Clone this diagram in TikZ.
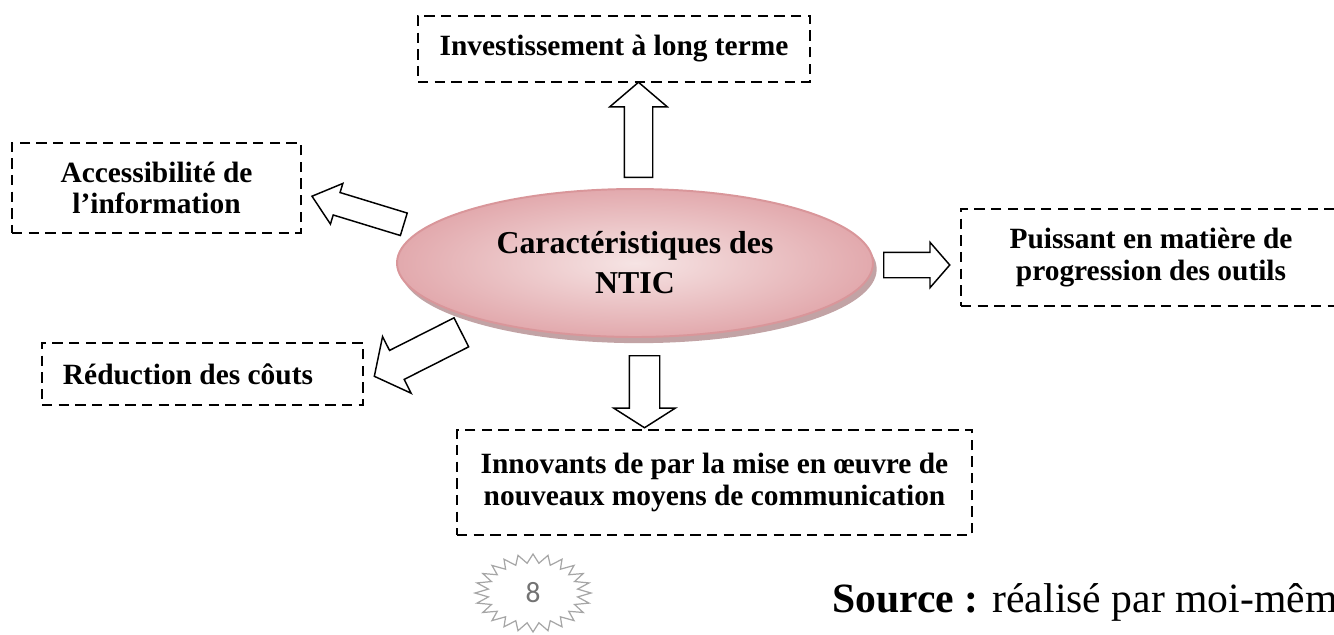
\documentclass[tikz,border=0pt]{standalone}
\usepackage{fontspec}
\setmainfont{Liberation Serif}
\newfontfamily\pagefont{Carlito}
\usetikzlibrary{shapes.geometric,shapes.arrows,shadows}
\definecolor{rosefill}{HTML}{F6E4E4}
\definecolor{rosedark}{HTML}{E2A9AD}
\definecolor{roseline}{HTML}{D9969A}
\definecolor{roseshadow}{HTML}{B38C8E}
\definecolor{sealgray}{HTML}{A6A6A6}
\newdimen\px \px=0.408pt
\tikzset{
  dashbox/.style={draw, dash pattern=on 4.2pt off 2.6pt, line width=1pt,
    align=center, inner sep=0pt, font=\bfseries\fontsize{12}{12.8}\selectfont},
  bigarrow/.style n args={5}{draw, single arrow, line width=0.6pt, inner xsep=0pt,
    inner ysep=#3/2*\px, anchor=tail, rotate=#1, minimum height=#2*\px,
    single arrow head extend=#4*\px, single arrow tip angle=#5},
}

\begin{document}
\begin{tikzpicture}[x=\px, y=-\px]
      \useasboundingbox (0,0) rectangle (1334,634);
      % centre
      \node[ellipse, minimum width=476*\px, minimum height=148*\px, draw=roseline,
        line width=0.8pt, inner color=rosefill, outer color=rosedark,
        drop shadow={shadow xshift=1.5pt, shadow yshift=-2.5pt,
        fill=roseshadow, opacity=0.8}, align=center,
        font=\bfseries\fontsize{13}{16.3}\selectfont] (N) at (635,263) {Caractéristiques des\\NTIC};
      % boxes
      \node[dashbox, minimum width=392*\px, minimum height=66*\px] (T) at (614,49) {Investissement à long terme};
      \node[dashbox, minimum width=289*\px, minimum height=90*\px] (A) at (156.5,188) {Accessibilité de\\l’information};
      \node[dashbox, minimum width=380*\px, minimum height=97*\px] (P) at (1151,257.5) {Puissant en matière de\\progression des outils};
      \node[dashbox, minimum width=321*\px, minimum height=62*\px] (R) at (202.5,374) {Réduction des côuts\hspace{29\px}};
      \node[dashbox, minimum width=515*\px, minimum height=105*\px] (V) at (714.5,482.5) {Innovants de par la mise en œuvre de\\nouveaux moyens de communication};
      % block arrows
      \node[bigarrow={90}{95}{27}{14.5}{99}] (aT) at (638.5,178) {};
      \node[bigarrow={-90}{72}{29}{15.5}{115}] (aV) at (644.5,355) {};
      \node[bigarrow={0}{66}{24}{10}{98}] (aP) at (883,265) {};
      \node[bigarrow={163}{96}{22}{9.5}{79}] (aA) at (404.5,224.5) {};
      \node[bigarrow={206.8}{97.5}{31}{15.5}{103}] (aR) at (462,332) {};
      % source and page number
      \node[anchor=base west, inner sep=0pt, font=\fontsize{17}{20}\selectfont] (S) at (832,612) {\textbf{Source :} réalisé par moi-même};
      \node[text=black!55, font=\pagefont\fontsize{12}{14}\selectfont] (pg) at (533,593) {8};
      \draw[sealgray, line width=0.5pt, shift={(pg.center)}] (0:58 and 39)
        \foreach \i in {1,...,47} {-- ({\i*7.5}:{58-13*mod(\i,2)} and {39-9*mod(\i,2)})} -- cycle;
\end{tikzpicture}
\end{document}
